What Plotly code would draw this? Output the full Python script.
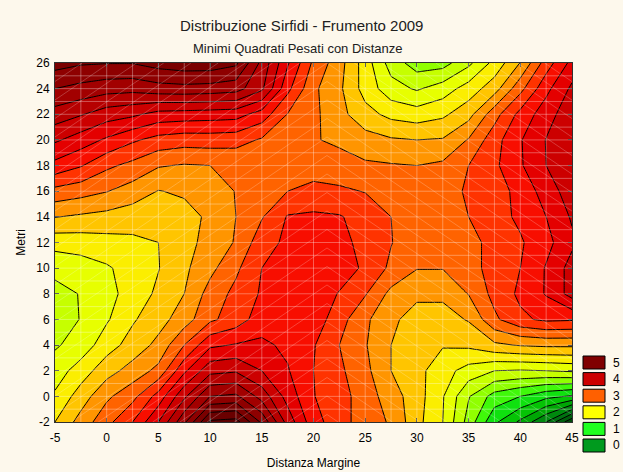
import numpy as np
import plotly.graph_objects as go

# Sampling grid of the weighted least-squares surface
distanza = [-5, -2.5, 0, 2.5, 5, 7.5, 10, 12.5, 15, 17.5, 20, 22.5, 25,
            27.5, 30, 32.5, 35, 37.5, 40, 42.5, 45]
metri = [-2, 0, 2, 4, 6, 8, 10, 12, 14, 16, 18, 20, 22, 24, 26]

# Sirfidi surface, one row per value of "metri" (bottom to top)
sirfidi = [
    [2.25, 2.60, 2.92, 3.25, 3.75, 4.45, 5.30, 5.35, 4.70, 3.90, 3.35, 3.10, 2.88, 2.72, 2.33, 2.00, 1.40, 0.80, 0.45, 0.00, -0.70],
    [2.04, 2.37, 2.70, 2.92, 3.35, 3.95, 4.50, 4.55, 4.15, 3.65, 3.26, 3.10, 2.88, 2.62, 2.36, 2.02, 1.52, 1.15, 1.00, 0.82, 0.72],
    [1.87, 2.12, 2.40, 2.60, 2.82, 3.45, 3.92, 3.97, 3.75, 3.52, 3.25, 3.05, 2.82, 2.50, 2.33, 2.10, 1.90, 1.75, 1.73, 1.75, 1.79],
    [1.72, 1.85, 2.14, 2.35, 2.57, 3.00, 3.45, 3.52, 3.55, 3.45, 3.27, 3.00, 2.77, 2.50, 2.35, 2.27, 2.30, 2.45, 2.52, 2.55, 2.55],
    [1.62, 1.76, 1.97, 2.22, 2.40, 2.63, 2.95, 3.12, 3.38, 3.45, 3.40, 3.10, 2.80, 2.55, 2.40, 2.40, 2.52, 2.95, 3.20, 3.30, 3.28],
    [1.68, 1.76, 1.92, 2.10, 2.30, 2.50, 2.85, 3.07, 3.28, 3.42, 3.45, 3.23, 3.02, 2.68, 2.55, 2.55, 2.76, 3.08, 3.30, 3.52, 3.85],
    [1.81, 1.88, 1.97, 2.10, 2.24, 2.45, 2.68, 2.95, 3.25, 3.40, 3.45, 3.40, 3.20, 2.95, 2.76, 2.76, 2.90, 3.10, 3.25, 3.52, 3.85],
    [2.10, 2.12, 2.16, 2.20, 2.25, 2.40, 2.60, 2.77, 3.15, 3.30, 3.35, 3.30, 3.20, 3.01, 2.85, 2.85, 2.95, 3.05, 3.22, 3.42, 3.70],
    [2.51, 2.46, 2.42, 2.36, 2.35, 2.40, 2.55, 2.75, 2.98, 3.27, 3.30, 3.27, 3.15, 3.00, 2.85, 2.88, 3.00, 3.15, 3.30, 3.50, 3.78],
    [2.92, 2.85, 2.76, 2.64, 2.49, 2.54, 2.62, 2.76, 2.96, 3.00, 3.05, 3.04, 2.99, 2.85, 2.80, 2.85, 3.05, 3.15, 3.32, 3.62, 3.88],
    [3.42, 3.27, 3.05, 2.93, 2.77, 2.73, 2.75, 2.79, 2.92, 2.93, 2.92, 2.86, 2.79, 2.77, 2.75, 2.80, 3.00, 3.20, 3.47, 3.75, 3.98],
    [3.79, 3.63, 3.46, 3.29, 3.16, 3.11, 3.12, 3.10, 2.97, 2.90, 2.77, 2.70, 2.60, 2.53, 2.50, 2.52, 2.77, 3.15, 3.48, 3.76, 3.98],
    [4.14, 4.02, 3.87, 3.80, 3.66, 3.64, 3.62, 3.60, 3.39, 2.99, 2.81, 2.58, 2.34, 2.18, 2.12, 2.20, 2.41, 2.90, 3.33, 3.64, 3.92],
    [4.50, 4.42, 4.35, 4.33, 4.40, 4.42, 4.40, 4.35, 4.05, 3.32, 2.80, 2.55, 2.15, 1.85, 1.72, 1.87, 2.11, 2.39, 2.92, 3.43, 3.80],
    [4.85, 4.78, 4.76, 4.76, 4.85, 4.90, 4.90, 4.80, 4.18, 3.53, 2.95, 2.60, 2.13, 1.64, 1.38, 1.40, 1.69, 2.08, 2.51, 3.12, 3.58],
]

x_ticks = [-5, 0, 5, 10, 15, 20, 25, 30, 35, 40, 45]
y_ticks = [-2, 0, 2, 4, 6, 8, 10, 12, 14, 16, 18, 20, 22, 24, 26]

# Colour ramp anchored on surface values (green -> yellow -> red -> maroon)
ramp_values = [-0.875, -0.5, 0.0, 0.5, 1.0, 1.25, 1.5, 1.75, 2.0, 2.25, 2.5,
               2.75, 3.0, 3.25, 3.5, 3.75, 4.0, 4.5, 5.0, 5.625]
ramp_colors = ["#003806", "#00540a", "#007a12", "#00b400", "#14f014", "#6cff00",
               "#b4ff00", "#d8ff00", "#f6ff00", "#ffdc00", "#ffae00", "#ff7c00",
               "#ff4a00", "#ff1c00", "#f00000", "#d80000", "#c00000", "#980000",
               "#700000", "#520000"]

# Legend swatches
legend_labels = ["5", "4", "3", "2", "1", "0"]
legend_colors = ["#800000", "#cc0000", "#ff6000", "#ffff00", "#20ff20", "#009a1e"]

# Contour levels
lev_start, lev_end, lev_size = -0.75, 5.5, 0.25

W, H = 623, 472
ML, MR, MT, MB = 55, 51, 63, 50
PW, PH = W - ML - MR, H - MT - MB
X_RANGE = (-5, 45)
Y_RANGE = (-2, 26)

BG = "#fdf8ec"
FONT = "Liberation Sans, Arial, sans-serif"

# Plotly maps the colourscale over [start - size/2, start + n*size - size/2]
n_lev = int(np.floor((lev_end - lev_start) / lev_size + 1e-6)) + 1
lo = lev_start - lev_size / 2
span = n_lev * lev_size
colorscale = [[min(max((v - lo) / span, 0.0), 1.0), c]
              for v, c in zip(ramp_values, ramp_colors)]
colorscale[0][0] = 0.0
colorscale[-1][0] = 1.0

fig = go.Figure()
fig.add_trace(go.Contour(
    x=distanza, y=metri, z=sirfidi,
    autocontour=False,
    contours=dict(start=lev_start, end=lev_end, size=lev_size, coloring="fill"),
    colorscale=colorscale,
    showscale=False,
    line=dict(color="black", width=1, smoothing=0),
    hoverinfo="skip",
))


def to_data(px, py):
    """plot-area pixel offsets -> data coordinates"""
    x = X_RANGE[0] + px / PW * (X_RANGE[1] - X_RANGE[0])
    y = Y_RANGE[1] - py / PH * (Y_RANGE[1] - Y_RANGE[0])
    return x, y


def clip(x0, y0, x1, y1, xmin, xmax, ymin, ymax):
    """Liang-Barsky clipping of a segment to a rectangle"""
    dx, dy = x1 - x0, y1 - y0
    t0, t1 = 0.0, 1.0
    for p, q in ((-dx, x0 - xmin), (dx, xmax - x0), (-dy, y0 - ymin), (dy, ymax - y0)):
        if p == 0:
            if q < 0:
                return None
            continue
        t = q / p
        if p < 0:
            t0 = max(t0, t)
        else:
            t1 = min(t1, t)
        if t0 > t1:
            return None
    return x0 + t0 * dx, y0 + t0 * dy, x0 + t1 * dx, y0 + t1 * dy


WHITE = "rgba(255,255,255,0.33)"
HATCH = "rgba(255,255,255,0.22)"
shapes = []
# light grid drawn over the filled surface
for gx in np.arange(-2.5, 45, 2.5):
    shapes.append(dict(type="line", xref="x", yref="y", x0=gx, x1=gx, y0=-2, y1=26,
                       line=dict(color=WHITE, width=1), layer="above"))
for gy in np.arange(-1, 26, 1):
    shapes.append(dict(type="line", xref="x", yref="y", x0=-5, x1=45, y0=gy, y1=gy,
                       line=dict(color=WHITE, width=1), layer="above"))

# chevron hatching of the fill texture
apex = 272.0
slope = 0.68
step = 18.5
for c in np.arange(-slope * PW, PH + slope * PW, step):
    seg = clip(0, c, apex, c - slope * apex, 0, apex, 0, PH)
    if seg:
        a, b = to_data(seg[0], seg[1]), to_data(seg[2], seg[3])
        shapes.append(dict(type="line", xref="x", yref="y", x0=a[0], y0=a[1], x1=b[0], y1=b[1],
                           line=dict(color=HATCH, width=1), layer="above"))
    seg = clip(apex, c - slope * apex, PW, c - slope * apex + slope * (PW - apex), apex, PW, 0, PH)
    if seg:
        a, b = to_data(seg[0], seg[1]), to_data(seg[2], seg[3])
        shapes.append(dict(type="line", xref="x", yref="y", x0=a[0], y0=a[1], x1=b[0], y1=b[1],
                           line=dict(color=HATCH, width=1), layer="above"))


def px_x(p):
    return (p - ML) / PW


def px_y(p):
    return (H - MB - p) / PH


annotations = []
box_x0, box_x1 = 583, 605
box_top0, box_h, box_step = 356, 13, 16.6
for i, (lab, col) in enumerate(zip(legend_labels, legend_colors)):
    top = box_top0 + i * box_step
    shapes.append(dict(type="rect", xref="paper", yref="paper",
                       x0=px_x(box_x0), x1=px_x(box_x1),
                       y0=px_y(top + box_h), y1=px_y(top),
                       fillcolor=col, line=dict(color="black", width=1)))
    annotations.append(dict(xref="paper", yref="paper", x=px_x(611), y=px_y(top + box_h / 2),
                            text=lab, showarrow=False, xanchor="left", yanchor="middle",
                            font=dict(family=FONT, size=12, color="black")))

annotations.append(dict(xref="paper", yref="paper", x=px_x(301), y=px_y(25),
                        text="Distribuzione Sirfidi - Frumento 2009", showarrow=False,
                        xanchor="center", yanchor="middle",
                        font=dict(family=FONT, size=15, color="#202020")))
annotations.append(dict(xref="paper", yref="paper", x=px_x(298), y=px_y(49),
                        text="Minimi Quadrati Pesati con Distanze", showarrow=False,
                        xanchor="center", yanchor="middle",
                        font=dict(family=FONT, size=13, color="#202020")))

fig.update_layout(
    width=W, height=H,
    margin=dict(l=ML, r=MR, t=MT, b=MB, pad=0, autoexpand=False),
    paper_bgcolor=BG, plot_bgcolor=BG,
    shapes=shapes, annotations=annotations,
    showlegend=False,
    font=dict(family=FONT, size=12, color="black"),
)
fig.update_xaxes(
    range=list(X_RANGE), tickvals=x_ticks, ticktext=[str(v) for v in x_ticks],
    automargin=False,
    showgrid=False, zeroline=False, showline=True, linecolor="#303030", linewidth=1,
    mirror="ticks", ticks="inside", ticklen=4, tickcolor="#303030",
    ticklabelstandoff=5,
    tickfont=dict(family=FONT, size=12, color="black"),
    title=dict(text="Distanza Margine", font=dict(family=FONT, size=12, color="black"), standoff=14),
)
fig.update_yaxes(
    range=list(Y_RANGE), tickvals=y_ticks, ticktext=[str(v) for v in y_ticks],
    automargin=False,
    showgrid=False, zeroline=False, showline=True, linecolor="#303030", linewidth=1,
    mirror="ticks", ticks="inside", ticklen=4, tickcolor="#303030",
    ticklabelstandoff=2,
    tickfont=dict(family=FONT, size=12, color="black"),
    title=dict(text="Metri", font=dict(family=FONT, size=12, color="black"), standoff=8),
)

fig.write_html("out.html")
